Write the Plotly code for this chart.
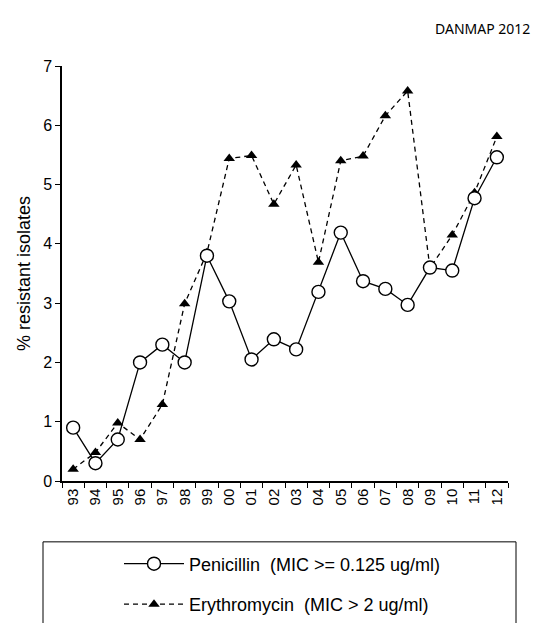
import plotly.graph_objects as go

years = ["93","94","95","96","97","98","99","00","01","02","03","04","05","06","07","08","09","10","11","12"]
penicillin = [0.90,0.30,0.70,2.00,2.30,2.00,3.80,3.03,2.05,2.39,2.22,3.19,4.19,3.37,3.24,2.97,3.60,3.55,4.77,5.46]
erythromycin = [0.20,0.48,0.98,0.70,1.29,2.99,3.85,5.44,5.49,4.67,5.33,3.69,5.40,5.48,6.16,6.58,3.59,4.15,4.86,5.81]

pen_name = "Penicillin  (MIC >= 0.125 ug/ml)"
ery_name = "Erythromycin  (MIC > 2 ug/ml)"

fig = go.Figure()
fig.add_trace(go.Scatter(
    x=years, y=erythromycin, name=ery_name, mode="lines+markers",
    line=dict(color="black", width=1.3, dash="5px,4px"),
    marker=dict(symbol="triangle-up", size=10, color="black"),
    legend="legend2",
))
fig.add_trace(go.Scatter(
    x=years, y=penicillin, name=pen_name, mode="lines+markers",
    line=dict(color="black", width=1.3),
    marker=dict(symbol="circle", size=13, color="white", line=dict(color="black", width=1.4)),
    legend="legend",
))

W, H = 534, 623
L, R, T, B = 62, 0, 66, 141
PLOT_RIGHT = 508
pw, ph = W - L - R, H - T - B

def px(x):
    return (x - L) / pw

def py(y):
    return (H - B - y) / ph

FONT = "Liberation Sans, Arial, sans-serif"

fig.add_shape(type="rect", xref="paper", yref="paper",
              x0=px(43), x1=px(516), y0=py(650), y1=py(543),
              line=dict(color="black", width=1), fillcolor="white", layer="below")

legend_common = dict(
    xanchor="left", yanchor="middle", bgcolor="rgba(0,0,0,0)", borderwidth=0,
    font=dict(family=FONT, size=18, color="black"),
    itemwidth=60,
)

fig.update_layout(
    width=W, height=H,
    margin=dict(l=L, r=R, t=T, b=B),
    paper_bgcolor="white", plot_bgcolor="white",
    font=dict(family=FONT, size=16, color="black"),
    showlegend=True,
    legend=dict(x=px(119), y=py(564), **legend_common),
    legend2=dict(x=px(119), y=py(606), **legend_common),
    xaxis=dict(
        domain=[0, px(PLOT_RIGHT)],
        type="category", categoryorder="array", categoryarray=years,
        tickangle=-90, tickson="boundaries", ticks="outside", ticklen=5,
        tickcolor="black", showline=True, linecolor="black", linewidth=1.5,
        showgrid=False, zeroline=False, tickfont=dict(family=FONT, size=15, color="black"),
        range=[-0.5, len(years) - 0.5],
    ),
    yaxis=dict(
        range=[0, 7], dtick=1, ticks="outside", ticklen=5, tickcolor="black",
        showline=True, linecolor="black", linewidth=1.5, showgrid=False,
        zeroline=False, tickfont=dict(family=FONT, size=16, color="black"),
        title=dict(text="% resistant isolates", font=dict(family=FONT, size=18, color="black"), standoff=8),
    ),
    annotations=[dict(
        text="DANMAP 2012", xref="paper", yref="paper",
        x=px(532), y=py(28), xanchor="right", yanchor="middle", showarrow=False,
        font=dict(family="Noto Sans, DejaVu Sans, sans-serif", size=14, color="black"),
    )],
)

fig.write_html("out.html", config={"displayModeBar": False},
               post_script="document.body.style.margin='0px';")
